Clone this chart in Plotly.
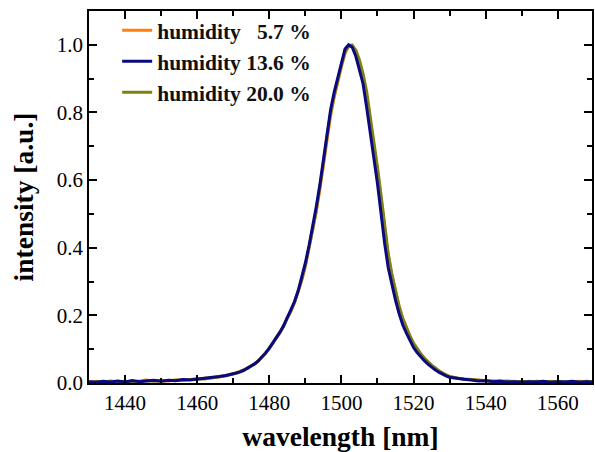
import plotly.graph_objects as go

wavelength = [1430, 1432, 1434, 1436, 1438, 1440, 1442, 1444, 1446, 1448,
              1450, 1452, 1454, 1456, 1458, 1460, 1462, 1464, 1466, 1468,
              1470, 1471, 1472, 1473, 1474, 1475, 1476, 1477, 1478, 1479,
              1480, 1481, 1482, 1483, 1484, 1485, 1486, 1487, 1488, 1489,
              1490, 1491, 1492, 1493, 1494, 1495, 1496, 1497, 1498, 1499,
              1500, 1501, 1502, 1503, 1504, 1505, 1506, 1507, 1508, 1509,
              1510, 1511, 1512, 1513, 1514, 1515, 1516, 1517, 1518, 1519,
              1520, 1521, 1522, 1523, 1524, 1525, 1526, 1527, 1528, 1529,
              1530, 1532, 1534, 1536, 1538, 1540, 1542, 1544, 1546, 1548,
              1550, 1552, 1554, 1556, 1558, 1560, 1562, 1564, 1566, 1568, 1570]

hum_5_7 = [0.003, 0.005, 0.002, 0.006, 0.004, 0.005, 0.003, 0.006, 0.009, 0.005,
           0.007, 0.006, 0.009, 0.008, 0.010, 0.010, 0.014, 0.016, 0.018, 0.023,
           0.026, 0.031, 0.034, 0.037, 0.045, 0.050, 0.056, 0.067, 0.076, 0.090,
           0.101, 0.119, 0.133, 0.149, 0.171, 0.190, 0.213, 0.238, 0.268, 0.303,
           0.345, 0.395, 0.448, 0.505, 0.570, 0.640, 0.720, 0.790, 0.845, 0.895,
           0.935, 0.975, 0.998, 1.000, 0.978, 0.945, 0.905, 0.850, 0.780, 0.705,
           0.630, 0.545, 0.455, 0.375, 0.318, 0.268, 0.225, 0.188, 0.160, 0.137,
           0.115, 0.098, 0.085, 0.073, 0.062, 0.052, 0.044, 0.036, 0.029, 0.023,
           0.019, 0.014, 0.012, 0.010, 0.008, 0.006, 0.005, 0.007, 0.004, 0.005,
           0.003, 0.005, 0.004, 0.003, 0.005, 0.004, 0.002, 0.004, 0.005, 0.003, 0.004]

hum_13_6 = [0.004, 0.002, 0.005, 0.003, 0.006, 0.003, 0.007, 0.004, 0.006, 0.008,
            0.005, 0.008, 0.007, 0.010, 0.009, 0.011, 0.013, 0.015, 0.019, 0.022,
            0.027, 0.030, 0.033, 0.038, 0.044, 0.049, 0.057, 0.066, 0.077, 0.089,
            0.103, 0.118, 0.134, 0.151, 0.170, 0.192, 0.215, 0.241, 0.272, 0.310,
            0.355, 0.405, 0.460, 0.520, 0.585, 0.660, 0.745, 0.808, 0.860, 0.905,
            0.950, 0.988, 1.000, 0.993, 0.966, 0.925, 0.885, 0.815, 0.745, 0.665,
            0.590, 0.500, 0.412, 0.340, 0.290, 0.245, 0.205, 0.172, 0.148, 0.125,
            0.105, 0.090, 0.077, 0.066, 0.056, 0.047, 0.039, 0.032, 0.026, 0.021,
            0.017, 0.013, 0.011, 0.009, 0.006, 0.007, 0.004, 0.005, 0.003, 0.004,
            0.002, 0.004, 0.003, 0.005, 0.002, 0.004, 0.003, 0.005, 0.002, 0.004, 0.003]

hum_20_0 = [0.002, 0.004, 0.003, 0.005, 0.002, 0.004, 0.005, 0.003, 0.007, 0.006,
            0.006, 0.007, 0.008, 0.009, 0.011, 0.012, 0.012, 0.015, 0.019, 0.021,
            0.028, 0.029, 0.035, 0.039, 0.043, 0.051, 0.058, 0.065, 0.078, 0.088,
            0.104, 0.117, 0.135, 0.152, 0.168, 0.193, 0.212, 0.239, 0.270, 0.306,
            0.348, 0.398, 0.452, 0.510, 0.575, 0.648, 0.728, 0.798, 0.850, 0.898,
            0.940, 0.978, 0.995, 0.998, 0.985, 0.955, 0.915, 0.862, 0.790, 0.712,
            0.638, 0.555, 0.462, 0.382, 0.322, 0.272, 0.228, 0.192, 0.163, 0.140,
            0.118, 0.101, 0.087, 0.074, 0.063, 0.053, 0.045, 0.036, 0.030, 0.024,
            0.019, 0.015, 0.011, 0.010, 0.007, 0.006, 0.006, 0.004, 0.006, 0.003,
            0.005, 0.003, 0.005, 0.004, 0.003, 0.005, 0.003, 0.002, 0.004, 0.005, 0.003]

series_names = ["humidity \u20075.7 %", "humidity 13.6 %", "humidity 20.0 %"]
colors = ["#FF7F0E", "#0A0A80", "#808015"]

FONT = "Liberation Serif, Times New Roman, serif"

fig = go.Figure()
# draw order: orange, olive, blue (blue on top); legend order: orange, blue, olive
fig.add_trace(go.Scatter(x=wavelength, y=hum_5_7, mode="lines", name="<b>" + series_names[0] + "</b>",
                         line=dict(color=colors[0], width=3), legendrank=1))
fig.add_trace(go.Scatter(x=wavelength, y=hum_20_0, mode="lines", name="<b>" + series_names[2] + "</b>",
                         line=dict(color=colors[2], width=3), legendrank=3))
fig.add_trace(go.Scatter(x=wavelength, y=hum_13_6, mode="lines", name="<b>" + series_names[1] + "</b>",
                         line=dict(color=colors[1], width=3), legendrank=2))

axis_common = dict(
    showline=True, linecolor="black", linewidth=1.5, mirror="allticks",
    ticks="inside", ticklen=8, tickwidth=1.5, tickcolor="black",
    showgrid=False, zeroline=False, automargin=False,
    tickfont=dict(family=FONT, size=21, color="black"),
)

fig.update_layout(
    width=595, height=452,
    margin=dict(l=89, r=3, t=11, b=69),
    paper_bgcolor="white", plot_bgcolor="white",
    showlegend=True,
    legend=dict(x=0.056, y=1.003, xanchor="left", yanchor="top",
                bgcolor="rgba(0,0,0,0)", borderwidth=0,
                font=dict(family=FONT, size=21.5, color="#111"),
                tracegroupgap=0, itemwidth=30),
    xaxis=dict(range=[1430, 1569.5], dtick=20, tick0=1440,
               minor=dict(dtick=10, ticks="inside", ticklen=5, tickwidth=1.5, tickcolor="black"),
               title=dict(text="<b>wavelength [nm]</b>", font=dict(family=FONT, size=27.5, color="black")),
               **axis_common),
    yaxis=dict(range=[0, 1.1], dtick=0.2, tick0=0, tickformat=".1f",
               minor=dict(dtick=0.1, ticks="inside", ticklen=5, tickwidth=1.5, tickcolor="black"),
               title=dict(text="<b>intensity [a.u.]</b>", font=dict(family=FONT, size=27.5, color="black")),
               **axis_common),
)

fig.write_html("out.html", config={"displayModeBar": False},
               post_script="document.body.style.margin='0px';document.body.style.overflow='hidden';")
